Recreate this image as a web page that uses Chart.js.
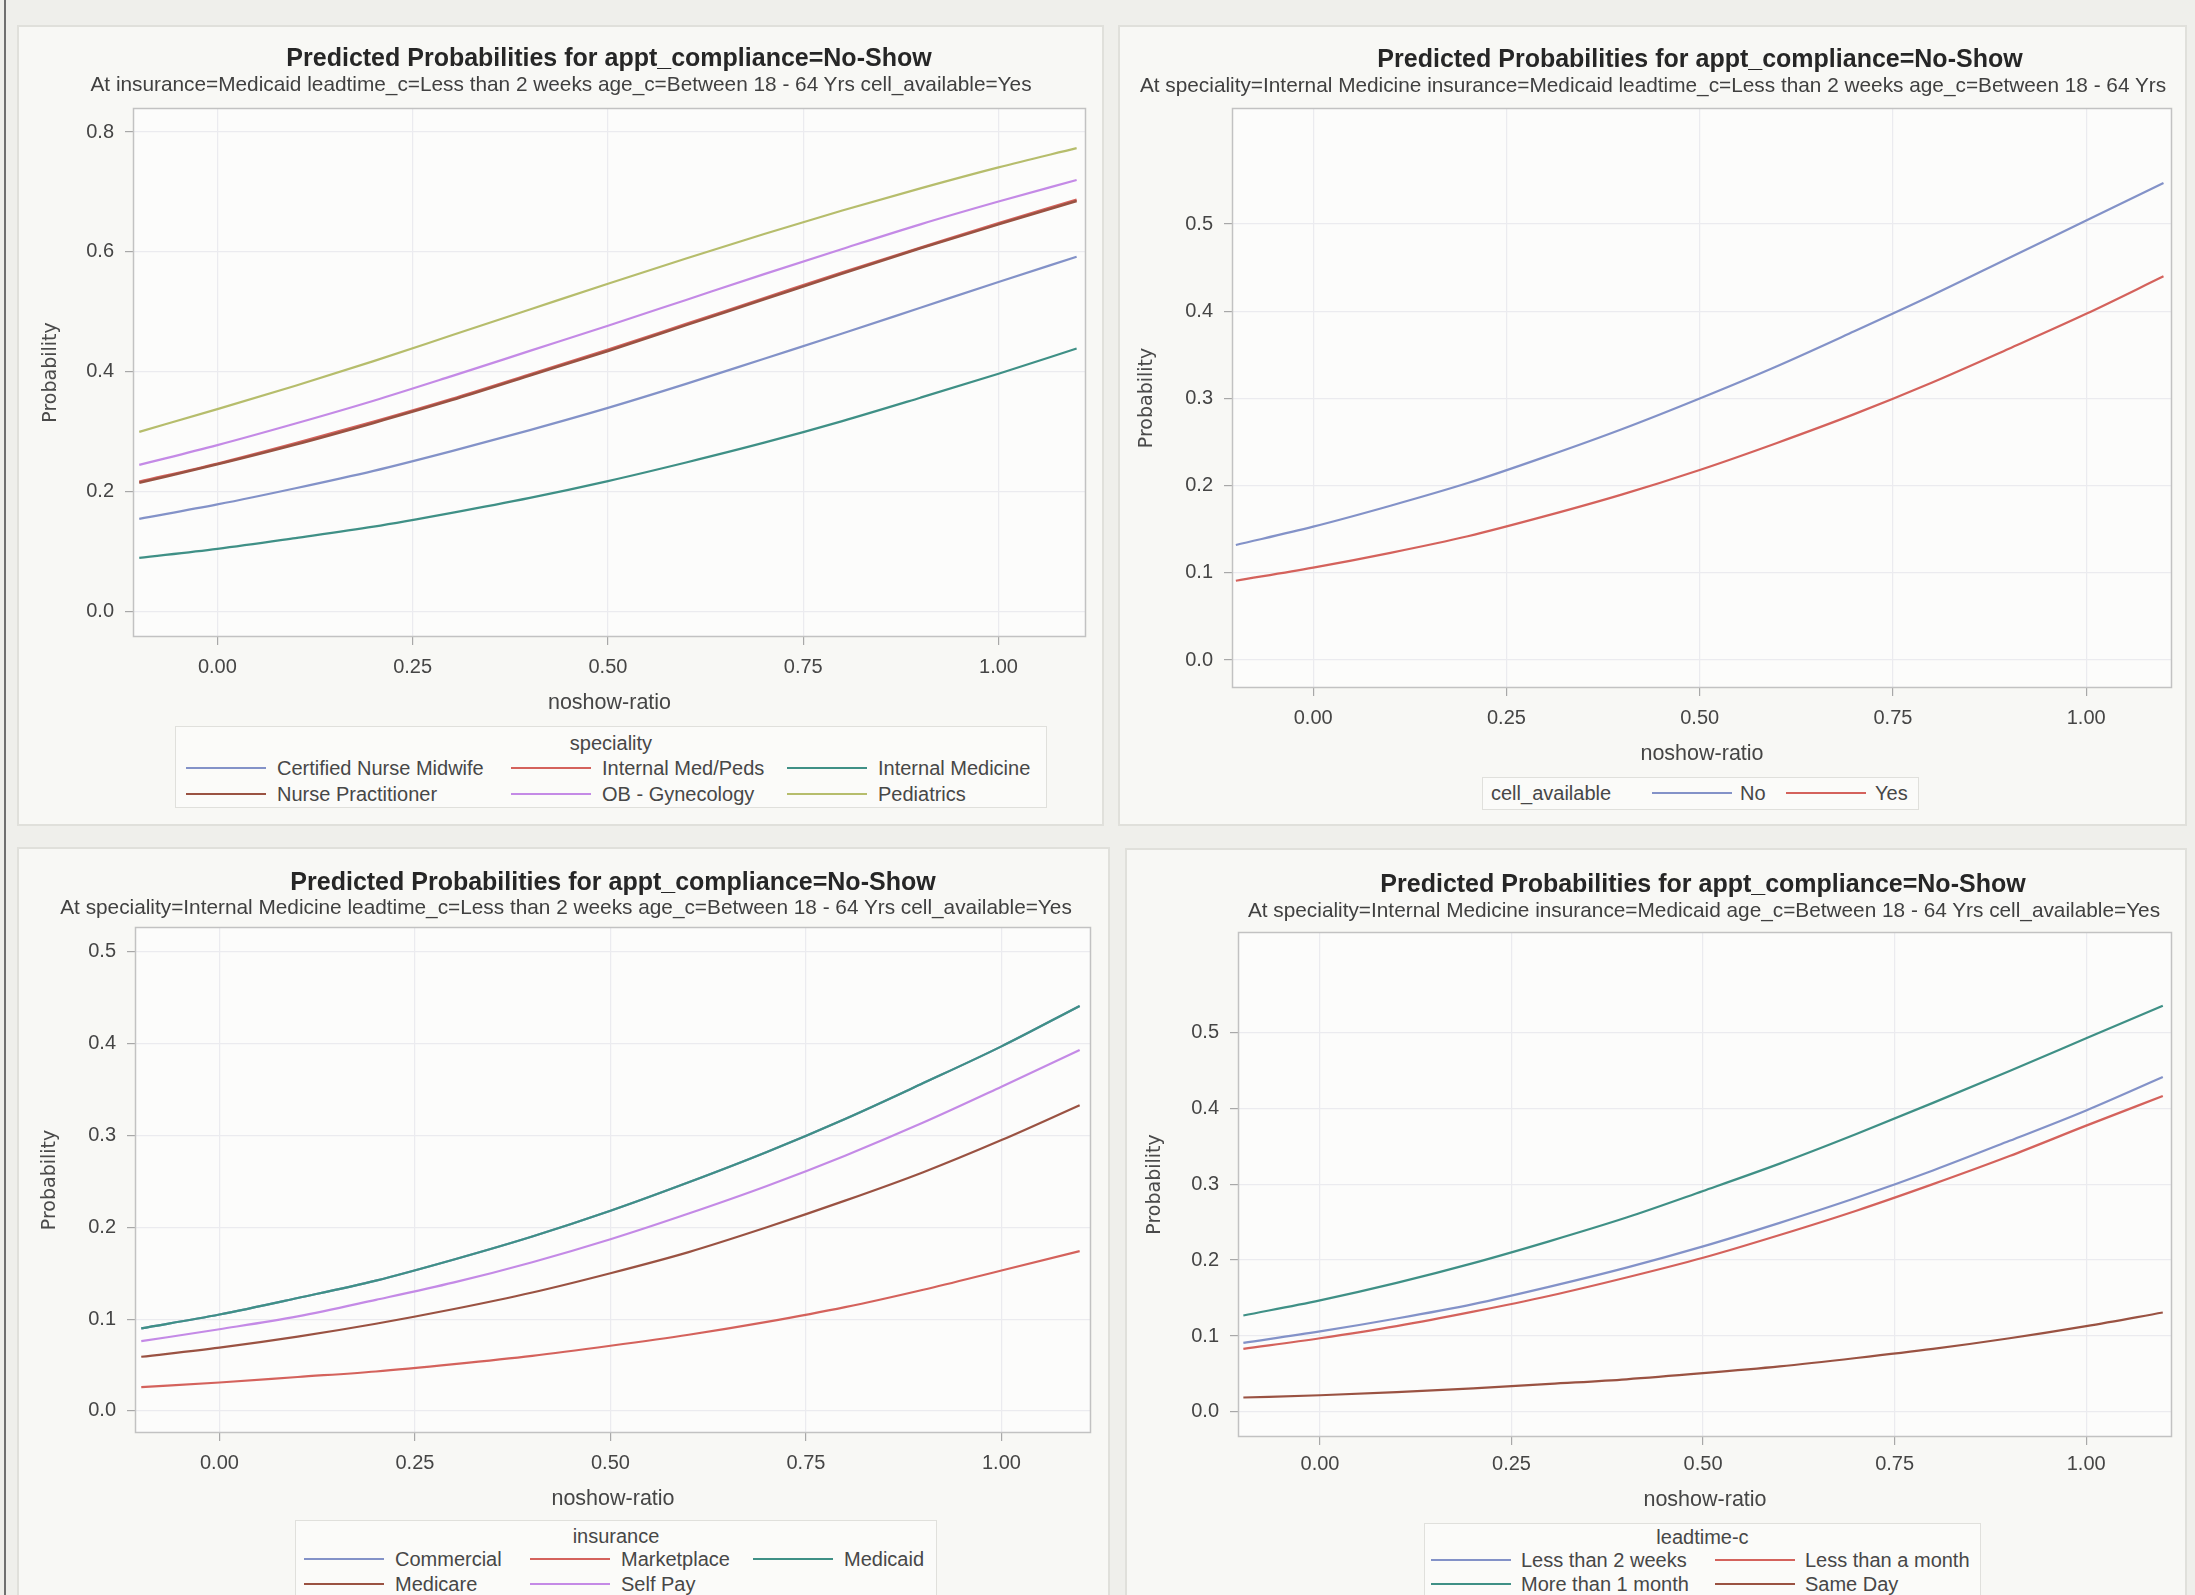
<!DOCTYPE html>
<html><head><meta charset="utf-8">
<script src="https://cdn.jsdelivr.net/npm/chart.js@4.4.1/dist/chart.umd.min.js"></script>
<style>
html,body{margin:0;padding:0;}
body{width:2195px;height:1595px;background:#efefeb;position:relative;overflow:hidden;font-family:"Liberation Sans",Arial,sans-serif;}
.panel{position:absolute;background:#f8f8f5;border:2px solid #e0e0db;box-sizing:border-box;}
.cv{position:absolute;}
.t{position:absolute;white-space:nowrap;transform:translate(-50%,-50%);}
.title{font-weight:bold;font-size:25px;color:#262626;}
.sub{font-size:20.8px;color:#404040;}
.lg{position:absolute;background:#fbfbf9;border:1px solid #e0e0dc;box-sizing:border-box;}
.lt{position:absolute;white-space:nowrap;font-size:20px;color:#474747;transform:translateY(-50%);line-height:24px;}
.lct{position:absolute;white-space:nowrap;font-size:20px;color:#474747;transform:translate(-50%,-50%);line-height:24px;}
.ll{position:absolute;height:2px;width:80px;margin-top:-1px;}
#edge{position:absolute;left:4px;top:0;width:2px;height:1595px;background:#707070;}
</style></head><body>
<div id="edge"></div>
<div class="panel" style="left:17px;top:25px;width:1087px;height:801px"></div>
<div class="panel" style="left:1118px;top:25px;width:1069px;height:801px"></div>
<div class="panel" style="left:17px;top:847px;width:1093px;height:760px"></div>
<div class="panel" style="left:1125px;top:848px;width:1062px;height:760px"></div>
<canvas id="c1" class="cv" style="left:17px;top:25px" width="1087" height="801"></canvas>
<canvas id="c2" class="cv" style="left:1118px;top:25px" width="1069" height="801"></canvas>
<canvas id="c3" class="cv" style="left:17px;top:847px" width="1093" height="748"></canvas>
<canvas id="c4" class="cv" style="left:1125px;top:848px" width="1062" height="747"></canvas>
<div id="overlay"></div>
<script>
// ---------------- data ----------------
const noshowRatio = [-0.1, 0, 0.1, 0.2, 0.3, 0.4, 0.5, 0.6, 0.7, 0.8, 0.9, 1.0, 1.1];
const xTickValues = [0, 0.25, 0.5, 0.75, 1.0];
const yTicksSpeciality = [0, 0.2, 0.4, 0.6, 0.8];
const yTicksOther = [0, 0.1, 0.2, 0.3, 0.4, 0.5];

const chartTitle = "Predicted Probabilities for appt_compliance=No-Show";
const subtitles = [
  "At insurance=Medicaid leadtime_c=Less than 2 weeks age_c=Between 18 - 64  Yrs cell_available=Yes",
  "At speciality=Internal Medicine insurance=Medicaid leadtime_c=Less than 2 weeks age_c=Between 18 - 64  Yrs",
  "At speciality=Internal Medicine leadtime_c=Less than 2 weeks age_c=Between 18 - 64  Yrs cell_available=Yes",
  "At speciality=Internal Medicine insurance=Medicaid age_c=Between 18 - 64  Yrs cell_available=Yes"
];
const xAxisTitle = "noshow-ratio";
const yAxisTitle = "Probability";

// panel 1: speciality
const specialityLabels = ["Certified Nurse Midwife", "Internal Med/Peds", "Internal Medicine", "Nurse Practitioner", "OB - Gynecology", "Pediatrics"];
const certifiedNurseMidwife = [0.155, 0.179, 0.206, 0.235, 0.268, 0.303, 0.340, 0.380, 0.422, 0.464, 0.507, 0.550, 0.592];
const internalMedPeds       = [0.217, 0.247, 0.281, 0.317, 0.355, 0.396, 0.437, 0.480, 0.523, 0.566, 0.607, 0.648, 0.687];
const internalMedicine      = [0.090, 0.105, 0.123, 0.142, 0.165, 0.190, 0.218, 0.249, 0.282, 0.318, 0.357, 0.397, 0.439];
const nursePractitioner     = [0.215, 0.246, 0.279, 0.315, 0.353, 0.394, 0.435, 0.478, 0.521, 0.564, 0.606, 0.646, 0.685];
const obGynecology          = [0.245, 0.278, 0.314, 0.352, 0.393, 0.435, 0.477, 0.520, 0.563, 0.605, 0.646, 0.684, 0.720];
const pediatrics            = [0.300, 0.338, 0.377, 0.418, 0.461, 0.504, 0.547, 0.589, 0.630, 0.669, 0.706, 0.741, 0.773];

// panel 2: cell_available
const cellLabels = ["No", "Yes"];
const cellNo  = [0.132, 0.153, 0.177, 0.203, 0.233, 0.265, 0.300, 0.337, 0.377, 0.418, 0.461, 0.504, 0.547];
const cellYes = [0.091, 0.106, 0.123, 0.142, 0.165, 0.190, 0.218, 0.249, 0.282, 0.318, 0.357, 0.397, 0.440];

// panel 3: insurance
const insuranceLabels = ["Commercial", "Marketplace", "Medicaid", "Medicare", "Self Pay"];
const commercial  = [0.090, 0.105, 0.123, 0.142, 0.165, 0.190, 0.218, 0.249, 0.282, 0.318, 0.357, 0.397, 0.441];
const marketplace = [0.026, 0.031, 0.037, 0.043, 0.051, 0.060, 0.071, 0.083, 0.097, 0.113, 0.132, 0.153, 0.174];
const medicaid    = [0.090, 0.105, 0.123, 0.142, 0.165, 0.190, 0.218, 0.249, 0.282, 0.318, 0.357, 0.397, 0.441];
const medicare    = [0.059, 0.069, 0.081, 0.095, 0.111, 0.129, 0.150, 0.173, 0.200, 0.229, 0.260, 0.295, 0.333];
const selfPay     = [0.076, 0.089, 0.103, 0.121, 0.140, 0.162, 0.187, 0.215, 0.245, 0.278, 0.314, 0.353, 0.393];

// panel 4: leadtime-c
const leadtimeLabels = ["Less than 2 weeks", "Less than a month", "More than 1 month", "Same Day"];
const lessThan2Weeks  = [0.091, 0.106, 0.123, 0.142, 0.165, 0.190, 0.218, 0.249, 0.282, 0.318, 0.357, 0.397, 0.441];
const lessThanAMonth  = [0.083, 0.097, 0.113, 0.132, 0.153, 0.177, 0.203, 0.233, 0.265, 0.300, 0.337, 0.377, 0.416];
const moreThan1Month  = [0.127, 0.147, 0.170, 0.196, 0.225, 0.256, 0.291, 0.327, 0.366, 0.407, 0.449, 0.492, 0.535];
const sameDay         = [0.019, 0.022, 0.026, 0.031, 0.037, 0.043, 0.051, 0.060, 0.071, 0.083, 0.097, 0.113, 0.131];

// ---------------- styles ----------------
const C = {
  blue:   '#8392c8',
  red:    '#d4625c',
  teal:   '#3f9086',
  brown:  '#9a5242',
  violet: '#c48ae6',
  olive:  '#b6bd6c'
};

function pts(arr){ return arr.map((v,i)=>({x:noshowRatio[i], y:v})); }
function ds(label, arr, color, order, width){
  return {label, data:pts(arr), borderColor:color, backgroundColor:color, borderWidth:width||2.2,
    pointRadius:0, tension:0.4, cubicInterpolationMode:'monotone', fill:false, order:order||0};
}

const wallPlugin = {
  id:'wall',
  beforeDraw(chart){
    const {ctx, chartArea:a} = chart;
    ctx.save(); ctx.fillStyle='#fcfcfb'; ctx.fillRect(a.left,a.top,a.right-a.left,a.bottom-a.top); ctx.restore();
  },
  afterDraw(chart){
    const {ctx, chartArea:a} = chart;
    ctx.save(); ctx.strokeStyle='#c2c2c2'; ctx.lineWidth=1.5;
    ctx.strokeRect(a.left+0.5,a.top+0.5,a.right-a.left-1,a.bottom-a.top-1); ctx.restore();
  }
};

function makeChart(id, datasets, cfg){
  const yTickList = cfg.yTicks;
  const xh = cfg.xHeight || 79;
  new Chart(document.getElementById(id), {
    type:'line',
    data:{datasets},
    options:{
      responsive:false, animation:false, devicePixelRatio:1,
      layout:{padding:{top:cfg.padTop, right:cfg.padRight, left:0, bottom:cfg.below - xh}},
      plugins:{legend:{display:false}, tooltip:{enabled:false}, title:{display:false}},
      scales:{
        x:{type:'linear', min:cfg.xMin, max:cfg.xMax,
          afterBuildTicks:s=>{ s.ticks = xTickValues.map(v=>({value:v})); },
          afterFit:s=>{ s.height = xh; },
          ticks:{callback:v=>Number(v).toFixed(2), font:{family:'Liberation Sans', size:20}, color:'#454545', padding:cfg.xTickPad || 10, maxRotation:0, autoSkip:false},
          grid:{color:'#ebebef', tickColor:'#a8a8a8', tickLength:8, lineWidth:1.2},
          border:{display:false},
          title:{display:true, text:xAxisTitle, font:{family:'Liberation Sans', size:21.5, lineHeight:1.2}, color:'#454545', padding:0}
        },
        y:{type:'linear', min:cfg.yMin, max:cfg.yMax,
          afterBuildTicks:s=>{ s.ticks = yTickList.map(v=>({value:v})); },
          afterFit:s=>{ s.width = cfg.yWidth; },
          ticks:{callback:v=>Number(v).toFixed(1), font:{family:'Liberation Sans', size:20}, color:'#454545', padding:11, autoSkip:false},
          grid:{color:'#ebebef', tickColor:'#a8a8a8', tickLength:8, lineWidth:1.2},
          border:{display:false},
          title:{display:true, text:yAxisTitle, font:{family:'DejaVu Sans', size:19, lineHeight:1.2}, color:'#4a4a4a', padding:{top:cfg.yTitlePad, bottom:0}}
        }
      }
    },
    plugins:[wallPlugin]
  });
}

// panel 1
makeChart('c1', [
  ds(specialityLabels[0], certifiedNurseMidwife, C.blue, 2),
  ds(specialityLabels[1], internalMedPeds, C.red, 6, 2.4),
  ds(specialityLabels[2], internalMedicine, C.teal, 1),
  ds(specialityLabels[3], nursePractitioner, C.brown, 0, 2.6),
  ds(specialityLabels[4], obGynecology, C.violet, 3),
  ds(specialityLabels[5], pediatrics, C.olive, 4)
], {xMin:-0.108, xMax:1.112, yMin:-0.042, yMax:0.84, yTicks:yTicksSpeciality, padTop:83, padRight:18, below:189, yWidth:116, yTitlePad:22.6});

// panel 2
makeChart('c2', [
  ds(cellLabels[0], cellNo, C.blue, 0),
  ds(cellLabels[1], cellYes, C.red, 1)
], {xMin:-0.105, xMax:1.111, yMin:-0.032, yMax:0.633, yTicks:yTicksOther, padTop:83, padRight:15, below:138, yWidth:114, yTitlePad:17.6});

// panel 3
makeChart('c3', [
  ds(insuranceLabels[0], commercial, C.blue, 8),
  ds(insuranceLabels[1], marketplace, C.red, 1),
  ds(insuranceLabels[2], medicaid, C.teal, 0),
  ds(insuranceLabels[3], medicare, C.brown, 2),
  ds(insuranceLabels[4], selfPay, C.violet, 3)
], {xMin:-0.108, xMax:1.1145, yMin:-0.024, yMax:0.527, yTicks:yTicksOther, padTop:80, padRight:19, below:162, yWidth:118, yTitlePad:21.6});

// panel 4
makeChart('c4', [
  ds(leadtimeLabels[0], lessThan2Weeks, C.blue, 1),
  ds(leadtimeLabels[1], lessThanAMonth, C.red, 2),
  ds(leadtimeLabels[2], moreThan1Month, C.teal, 0),
  ds(leadtimeLabels[3], sameDay, C.brown, 3)
], {xMin:-0.107, xMax:1.112, yMin:-0.033, yMax:0.632, yTicks:yTicksOther, padTop:84, padRight:15, below:158, xHeight:76, xTickPad:7, yWidth:113, yTitlePad:18.6});

// ---------------- titles & legends (HTML text) ----------------
const ov = document.getElementById('overlay');
function el(cls, html, style){ const d=document.createElement('div'); d.className=cls; if(html!==null) d.textContent=html; Object.assign(d.style, style); ov.appendChild(d); return d; }

const titlePos = [
  {tx:609, ty:57, sx:561, sy:84},
  {tx:1700, ty:58, sx:1653, sy:85},
  {tx:613, ty:881, sx:566, sy:907},
  {tx:1703, ty:883, sx:1704, sy:910}
];
titlePos.forEach((p,i)=>{
  el('t title', chartTitle, {left:p.tx+'px', top:p.ty+'px'});
  el('t sub', subtitles[i], {left:p.sx+'px', top:p.sy+'px'});
});

function legend(box, titleText, titleY, labels, colors, cols, rows, textOff){
  el('lg', null, {left:box[0]+'px', top:box[1]+'px', width:(box[2]-box[0])+'px', height:(box[3]-box[1])+'px'});
  el('lct', titleText, {left:((box[0]+box[2])/2)+'px', top:titleY+'px'});
  labels.forEach((lab,i)=>{
    const c = i % cols.length, r = Math.floor(i / cols.length);
    el('ll', null, {left:cols[c]+'px', top:rows[r]+'px', background:colors[i]});
    el('lt', lab, {left:(cols[c]+textOff)+'px', top:rows[r]+'px'});
  });
}
legend([175,726,1047,808], 'speciality', 743, specialityLabels,
  [C.blue, C.red, C.teal, C.brown, C.violet, C.olive], [186,511,787], [768,794], 91);
legend([295,1520,937,1610], 'insurance', 1536, insuranceLabels,
  [C.blue, C.red, C.teal, C.brown, C.violet], [304,530,753], [1559,1584], 91);
legend([1424,1523,1981,1610], 'leadtime-c', 1537, leadtimeLabels,
  [C.blue, C.red, C.teal, C.brown], [1431,1715], [1560,1584], 90);

// panel 2 single-row legend
el('lg', null, {left:'1482px', top:'777px', width:'437px', height:'33px'});
el('lt', 'cell_available', {left:'1491px', top:'793px'});
el('ll', null, {left:'1652px', top:'793px', background:C.blue});
el('lt', cellLabels[0], {left:'1740px', top:'793px'});
el('ll', null, {left:'1786px', top:'793px', background:C.red});
el('lt', cellLabels[1], {left:'1875px', top:'793px'});
</script>
</body></html>
